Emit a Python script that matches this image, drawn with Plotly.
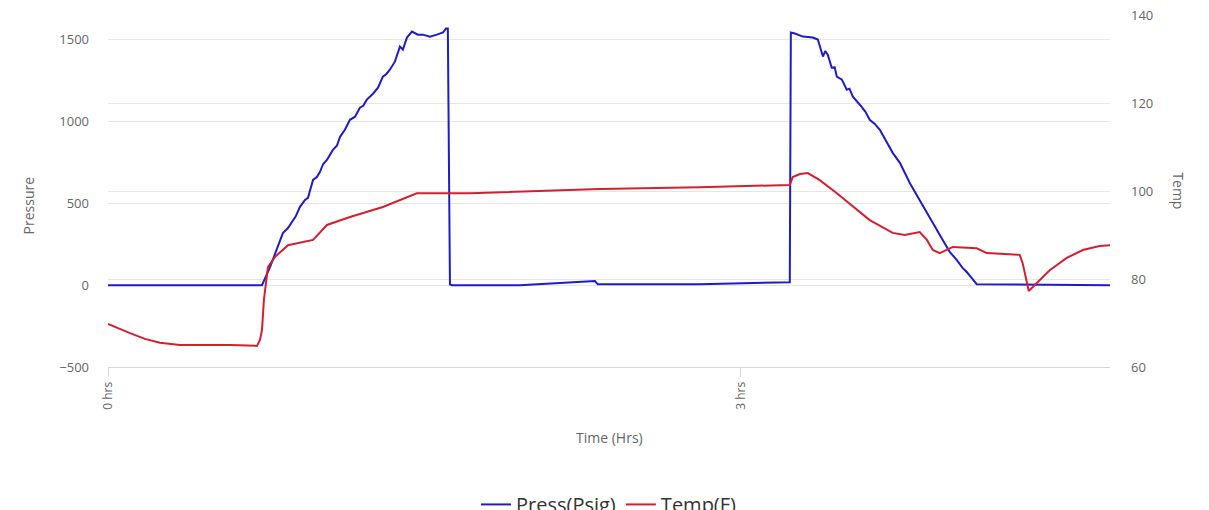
import plotly.graph_objects as go

# Pressure (Psig) series: time in hours, value
press_t = [0.000, 0.730, 0.768, 0.791, 0.810, 0.829, 0.853, 0.872, 0.890, 0.910, 0.934, 0.948,
           0.972, 0.990, 1.005, 1.020, 1.038, 1.066, 1.085, 1.100, 1.123, 1.147, 1.171, 1.194,
           1.210, 1.227, 1.256, 1.280, 1.303, 1.320, 1.336, 1.360, 1.384, 1.398, 1.417, 1.441,
           1.469, 1.493, 1.526, 1.559, 1.588, 1.602, 1.611, 1.621, 1.630, 1.953, 2.308, 2.322,
           2.806, 3.232, 3.237, 3.256, 3.294, 3.341, 3.365, 3.389, 3.400, 3.412, 3.431, 3.445,
           3.455, 3.479, 3.502, 3.515, 3.531, 3.564, 3.590, 3.611, 3.635, 3.659, 3.687, 3.720,
           3.754, 3.801, 3.839, 3.882, 3.919, 3.957, 3.991, 4.024, 4.052, 4.071, 4.095, 4.118,
           4.758]
press_v = [0, 0, 110, 184, 255, 318, 349, 386, 420, 478, 520, 533,
           643, 660, 692, 740, 765, 826, 851, 906, 949, 1010, 1029, 1084,
           1095, 1133, 1169, 1206, 1273, 1290, 1316, 1365, 1457, 1439, 1512, 1549,
           1530, 1530, 1518, 1530, 1543, 1567, 1567, 5, 0, 0, 25, 5,
           6, 18, 1543, 1537, 1518, 1512, 1500, 1396, 1430, 1408, 1328, 1330,
           1273, 1255, 1194, 1200, 1151, 1102, 1060, 1010, 985, 949, 888, 808,
           747, 624, 539, 441, 355, 275, 202, 153, 104, 80, 43, 6,
           0]

# Temperature (F) series
temp_t = [0.000, 0.033, 0.104, 0.175, 0.246, 0.341, 0.436, 0.578, 0.706, 0.720, 0.730, 0.739,
          0.758, 0.791, 0.853, 0.910, 0.972, 1.038, 1.147, 1.303, 1.464, 1.716, 2.332, 2.806,
          3.232, 3.246, 3.280, 3.318, 3.351, 3.374, 3.455, 3.611, 3.720, 3.777, 3.848, 3.882,
          3.910, 3.943, 4.005, 4.118, 4.166, 4.322, 4.336, 4.365, 4.403, 4.464, 4.545, 4.621,
          4.701, 4.758]
temp_v = [69.8, 69.1, 67.7, 66.4, 65.5, 65.0, 65.0, 65.0, 64.8, 66.1, 68.4, 75.2,
          82.7, 85.0, 87.7, 88.2, 88.9, 92.3, 94.1, 96.4, 99.5, 99.5, 100.5, 100.9,
          101.4, 103.2, 103.9, 104.1, 103.2, 102.5, 99.5, 93.4, 90.5, 90.0, 90.7, 88.9,
          86.6, 85.9, 87.3, 87.0, 85.9, 85.5, 83.6, 77.3, 79.1, 82.0, 84.8, 86.6,
          87.5, 87.7]

x_tick_vals = [0, 3]
x_tick_text = ["0 hrs", "3 hrs"]
press_ticks = [-500, 0, 500, 1000, 1500]
temp_ticks = [60, 80, 100, 120, 140]

FONT = "Open Sans"
GREY = "#666666"

fig = go.Figure()
fig.add_trace(go.Scatter(x=press_t, y=press_v, mode="lines", name="Press(Psig)",
                         line=dict(color="#1c1ccc", width=2)))
fig.add_trace(go.Scatter(x=temp_t, y=temp_v, mode="lines", name="Temp(F)", yaxis="y2",
                         line=dict(color="#d4202e", width=2)))

fig.update_layout(
    width=1209, height=510,
    margin=dict(l=100, r=107, t=7, b=151, autoexpand=False),
    paper_bgcolor="white", plot_bgcolor="white",
    font=dict(family=FONT, size=12, color=GREY),
    showlegend=True,
    legend=dict(orientation="h", x=0.5, xanchor="center", y=-0.335, yanchor="top",
                font=dict(family=FONT, size=20, color="#333333")),
    xaxis=dict(range=[0, 4.75], tickvals=x_tick_vals, ticktext=x_tick_text, tickangle=-90,
               showgrid=False, zeroline=False, showline=True, linecolor="#ccd6eb", linewidth=1,
               ticks="outside", ticklen=9, tickcolor="#ccd6eb",
               tickfont=dict(family=FONT, size=12, color=GREY)),
    yaxis=dict(range=[-500, 1650], tickvals=press_ticks, showgrid=True, gridcolor="#e6e6e6",
               zeroline=False, showline=False, ticklabelstandoff=18,
               tickfont=dict(family=FONT, size=13, color=GREY)),
    yaxis2=dict(range=[60, 140.05], tickvals=temp_ticks, overlaying="y", side="right",
                showgrid=True, gridcolor="#e6e6e6", zeroline=False, showline=False,
                ticklabelstandoff=20, ticklabeloverflow="allow",
                tickfont=dict(family=FONT, size=13, color=GREY)),
    annotations=[
        dict(text="Pressure", xref="paper", yref="paper", x=-0.091, y=0.46, textangle=-90,
             showarrow=False, font=dict(family=FONT, size=14, color=GREY)),
        dict(text="Temp", xref="paper", yref="paper", x=1.08, y=0.5, textangle=90,
             showarrow=False, font=dict(family=FONT, size=14, color=GREY)),
        dict(text="Time (Hrs)", xref="paper", yref="paper", x=0.5, y=-0.2, yanchor="middle",
             showarrow=False, font=dict(family=FONT, size=14, color=GREY)),
    ],
)

fig.write_html("out.html")
